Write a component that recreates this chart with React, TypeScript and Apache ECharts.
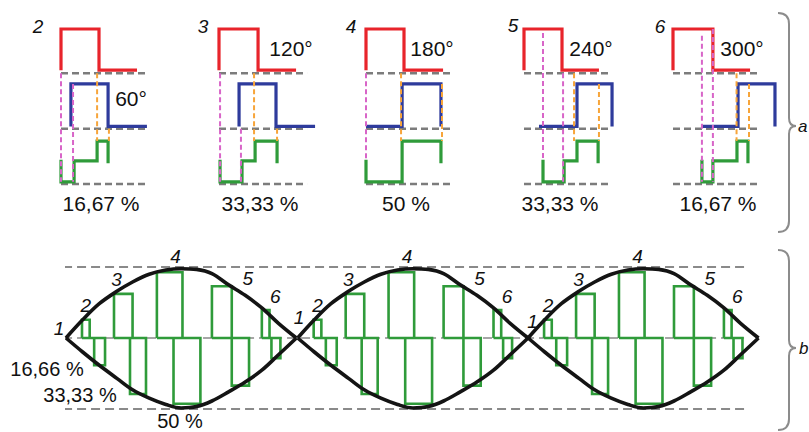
import React, { useEffect, useRef } from 'react';
import * as echarts from 'echarts';

// ---------------- data: top row (a), electrical degrees from each panel origin ----------------
const panelNumbers = ['2', '3', '4', '5', '6'];
const angleLabels = ['60°', '120°', '180°', '240°', '300°'];
const dutyLabels = ['16,67 %', '33,33 %', '50 %', '33,33 %', '16,67 %'];
// red phase: rise, fall, end
const redEdges = [[0, 180, 360], [0, 185, 365], [0, 180, 365], [0, 180, 355], [0, 189, 365]];
// blue phase: start, rise, fall, end
const blueEdges = [[47, 47, 223, 407], [95, 95, 270, 455], [0, 171, 355, 355], [71, 251, 417, 417], [137, 308, 483, 483]];
// green (resulting) : start, end of low, end of mid, end of high
const greenEdges = [[0, 62, 171, 223], [5, 109, 171, 275], [0, 171, 171, 355], [90, 190, 251, 351], [137, 189, 303, 355]];
const baselineEnds = [412, 417, 407, 407, 412];
const baselineLevels = [2.5, 1.25, 0];
const redLevels = [2.57, 3.5];
const blueLevels = [1.3, 2.26];
const greenLevels = [0.05, 0.52, 0.97];
const greenOpenClose = [0.55, 0.47];
// guides: [x, top level, bottom level]
const pinkGuides = [
  [[0, 2.5, 0.05], [57, 2.26, 0.05]],
  [[5, 2.5, 0.05], [104, 1.25, 0.05]],
  [[0, 2.5, 0.55]],
  [[90, 3.41, 0.55], [185, 2.5, 0.05]],
  [[137, 3.35, 0.05], [189, 3.5, 0.05]],
];
const orangeGuides = [
  [[171, 2.5, 0.97], [227, 1.25, 0.97]],
  [[166, 2.5, 0.97], [275, 1.25, 0.97]],
  [[166, 2.5, 0.97], [360, 2.26, 0.97]],
  [[237, 2.5, 0.97], [355, 2.26, 0.97]],
  [[301, 2.5, 0.97], [360, 2.26, 0.97]],
];

// ---------------- data: bottom row (b) ----------------
const lobeStarts = [0, 181, 361];
const envDeg = [0, 13, 26, 40, 52, 65, 78, 90, 102, 114, 127, 140, 153, 166, 180];
const envUpper = [0, 0.26, 0.49, 0.67, 0.8, 0.91, 0.97, 0.99, 0.98, 0.92, 0.76, 0.61, 0.43, 0.21, 0];
const envLower = [0, -0.2, -0.39, -0.58, -0.74, -0.86, -0.95, -1.0, -0.98, -0.9, -0.77, -0.63, -0.46, -0.24, 0];
const upperPulseStart = [12.5, 37.5, 71, 114, 153];
const upperPulseEnd = [18.5, 52, 91, 129.5, 159];
const upperPulseHeight = [0.26, 0.63, 0.94, 0.74, 0.4];
const lowerPulseStart = [22, 50, 84, 129.5, 160.5];
const lowerPulseEnd = [30.5, 62.5, 105, 143, 167.5];
const lowerPulseDepth = [-0.39, -0.8, -0.94, -0.68, -0.29];
const refLevels = [1.014, 0, -1.014];
const refRange = [-2.3, 533];
const sectorNames = ['2', '3', '4', '5', '6'];
const sectorLabelPos = [[15.5, 0.46], [39.5, 0.83], [85.5, 1.17], [142, 0.85], [163.5, 0.6]];
const nodeLabelPos = [[-5.5, 0.14], [182, 0.29], [364.5, 0.23]];
const dutyLabelsB = ['16,66 %', '33,33 %', '50 %'];

// ---------------- layout ----------------
const W = 809;
const H = 432;
const panelLeft = [61, 219, 366, 524, 673];
const panelNumPos = [[38, 26], [203, 26], [351, 26], [513, 25], [660, 26]];
const anglePos = [[131, 98], [291, 48], [432, 48], [591, 48], [742, 48]];
const dutyPos = [[101, 203], [260, 203], [406, 203], [560, 203], [718, 203]];
const dutyBPos = [[47, 369], [80, 395], [180, 421]];
const FONT = '"Liberation Sans", Arial, Helvetica, sans-serif';

const RED = '#e8242b';
const BLUE = '#2e3b9c';
const GREEN = '#2f9b3a';
const PINK = '#d865c8';
const ORANGE = '#f7a53a';
const GRAY = '#7c7c7c';
const BOTTOM = panelLeft.length;

function braceD(h: number, tip: number) {
  return `M0,0 C7,0 11,3 11,11 L11,${tip - 8} C11,${tip - 3} 13,${tip} 18,${tip} C13,${tip} 11,${tip + 3} 11,${tip + 8} L11,${h - 11} C11,${h - 3} 7,${h} 0,${h}`;
}
echarts.graphic.registerShape('braceA', echarts.graphic.extendPath(braceD(219, 113), {}));
echarts.graphic.registerShape('braceB', echarts.graphic.extendPath(braceD(180, 98), {}));

function seg(grid: number, data: any[], color: string, width: number, type: any = 'solid', extra: any = {}) {
  return {
    type: 'line',
    xAxisIndex: grid,
    yAxisIndex: grid,
    data,
    symbol: 'none',
    showSymbol: false,
    clip: false,
    silent: true,
    animation: false,
    lineStyle: { color, width, type, join: 'miter', cap: 'butt' },
    ...extra,
  };
}

function txt(x: number, y: number, text: string, size: number, italic = false, align = 'center') {
  return {
    type: 'text',
    x,
    y,
    silent: true,
    style: {
      text,
      fontSize: size,
      fontStyle: italic ? 'italic' : 'normal',
      fontFamily: FONT,
      fill: '#111',
      textAlign: align,
      textVerticalAlign: 'middle',
    },
  };
}

function buildOption() {
  const grids: any[] = [];
  const xAxes: any[] = [];
  const yAxes: any[] = [];
  const series: any[] = [];
  const graphic: any[] = [];

  panelLeft.forEach((left, i) => {
    grids.push({ left, top: 29, width: 110, height: 155 });
    xAxes.push({ gridIndex: i, type: 'value', min: 0, max: 521, show: false });
    yAxes.push({ gridIndex: i, type: 'value', min: 0, max: 3.5, show: false });

    baselineLevels.forEach((lv) => {
      series.push(seg(i, [[0, lv], [baselineEnds[i], lv]], GRAY, 2.5, [7, 4]));
    });
    const [r0, r1, r2] = redEdges[i];
    series.push(seg(i, [[r0, redLevels[0]], [r0, redLevels[1]], [r1, redLevels[1]], [r1, redLevels[0]], [r2, redLevels[0]]], RED, 3.2));
    const [b0, b1, b2, b3] = blueEdges[i];
    series.push(seg(i, [[b0, blueLevels[0]], [b1, blueLevels[0]], [b1, blueLevels[1]], [b2, blueLevels[1]], [b2, blueLevels[0]], [b3, blueLevels[0]]], BLUE, 3.2));
    const [g0, g1, g2, g3] = greenEdges[i];
    series.push(seg(i, [
      [g0, greenOpenClose[0]], [g0, greenLevels[0]], [g1, greenLevels[0]], [g1, greenLevels[1]],
      [g2, greenLevels[1]], [g2, greenLevels[2]], [g3, greenLevels[2]], [g3, greenOpenClose[1]],
    ], GREEN, 3.2));
    pinkGuides[i].forEach(([x, t, b]) => series.push(seg(i, [[x, t], [x, b]], PINK, 2, [5, 3])));
    orangeGuides[i].forEach(([x, t, b]) => series.push(seg(i, [[x, t], [x, b]], ORANGE, 2, [5, 3])));

    graphic.push(txt(panelNumPos[i][0], panelNumPos[i][1], panelNumbers[i], 19, true));
    graphic.push(txt(anglePos[i][0], anglePos[i][1], angleLabels[i], 21));
    graphic.push(txt(dutyPos[i][0], dutyPos[i][1], dutyLabels[i], 21));
  });

  // bottom grid
  grids.push({ left: 66, top: 261, width: 691.2, height: 154 });
  xAxes.push({ gridIndex: BOTTOM, type: 'value', min: 0, max: 540, show: false });
  yAxes.push({ gridIndex: BOTTOM, type: 'value', min: -1.1, max: 1.1, show: false });

  refLevels.forEach((lv, k) => {
    series.push(seg(BOTTOM, [[refRange[0], lv], [refRange[1], lv]], k === 1 ? '#a6a6a6' : '#8a8a8a', 2, [9, 5]));
  });

  lobeStarts.forEach((L) => {
    upperPulseStart.forEach((_, j) => {
      const us = L + upperPulseStart[j];
      const ue = L + upperPulseEnd[j];
      const uh = upperPulseHeight[j];
      const ls = L + lowerPulseStart[j];
      const le = L + lowerPulseEnd[j];
      const ld = lowerPulseDepth[j];
      series.push(seg(BOTTOM, [
        [us, 0], [us, uh], [ue, uh], [ue, 0], [ls, 0], [ls, ld], [le, ld], [le, 0], [us, 0],
      ], GREEN, 2.6));
    });
  });

  lobeStarts.forEach((L) => {
    series.push(seg(BOTTOM, envDeg.map((d, j) => [L + d, envUpper[j]]), '#141414', 3.6, 'solid', { smooth: 0.35 }));
    series.push(seg(BOTTOM, envDeg.map((d, j) => [L + d, envLower[j]]), '#141414', 3.6, 'solid', { smooth: 0.35 }));
  });

  dutyLabelsB.forEach((t, k) => graphic.push(txt(dutyBPos[k][0], dutyBPos[k][1], t, 20)));

  // braces
  graphic.push({ type: 'braceA', x: 778, y: 13, silent: true, style: { stroke: '#8c8c8c', lineWidth: 2, fill: 'none' } });
  graphic.push({ type: 'braceB', x: 778, y: 250, silent: true, style: { stroke: '#8c8c8c', lineWidth: 2, fill: 'none' } });
  graphic.push(txt(798, 126, 'a', 17, true, 'left'));
  graphic.push(txt(799, 348, 'b', 17, true, 'left'));

  return {
    option: {
      animation: false,
      backgroundColor: '#ffffff',
      grid: grids,
      xAxis: xAxes,
      yAxis: yAxes,
      series,
    },
    graphic,
  };
}

export default function App() {
  const ref = useRef<HTMLDivElement>(null);
  useEffect(() => {
    if (!ref.current) return;
    const chart = echarts.init(ref.current, undefined, { renderer: 'svg' });
    const { option, graphic } = buildOption();
    chart.setOption(option);
    // sector / node numbers placed through the bottom grid's scales
    const labels: any[] = [];
    lobeStarts.forEach((L) => {
      sectorNames.forEach((n, j) => {
        const p = chart.convertToPixel({ gridIndex: BOTTOM } as any, [L + sectorLabelPos[j][0], sectorLabelPos[j][1]]) as number[];
        labels.push(txt(p[0], p[1], n, 19, true));
      });
    });
    nodeLabelPos.forEach((v) => {
      const p = chart.convertToPixel({ gridIndex: BOTTOM } as any, v) as number[];
      labels.push(txt(p[0], p[1], '1', 19, true));
    });
    chart.setOption({ graphic: [...graphic, ...labels] });
    return () => chart.dispose();
  }, []);
  return (
    <div
      ref={ref}
      style={{ position: 'fixed', left: 0, top: 0, width: W, height: H, background: '#fff' }}
    />
  );
}
